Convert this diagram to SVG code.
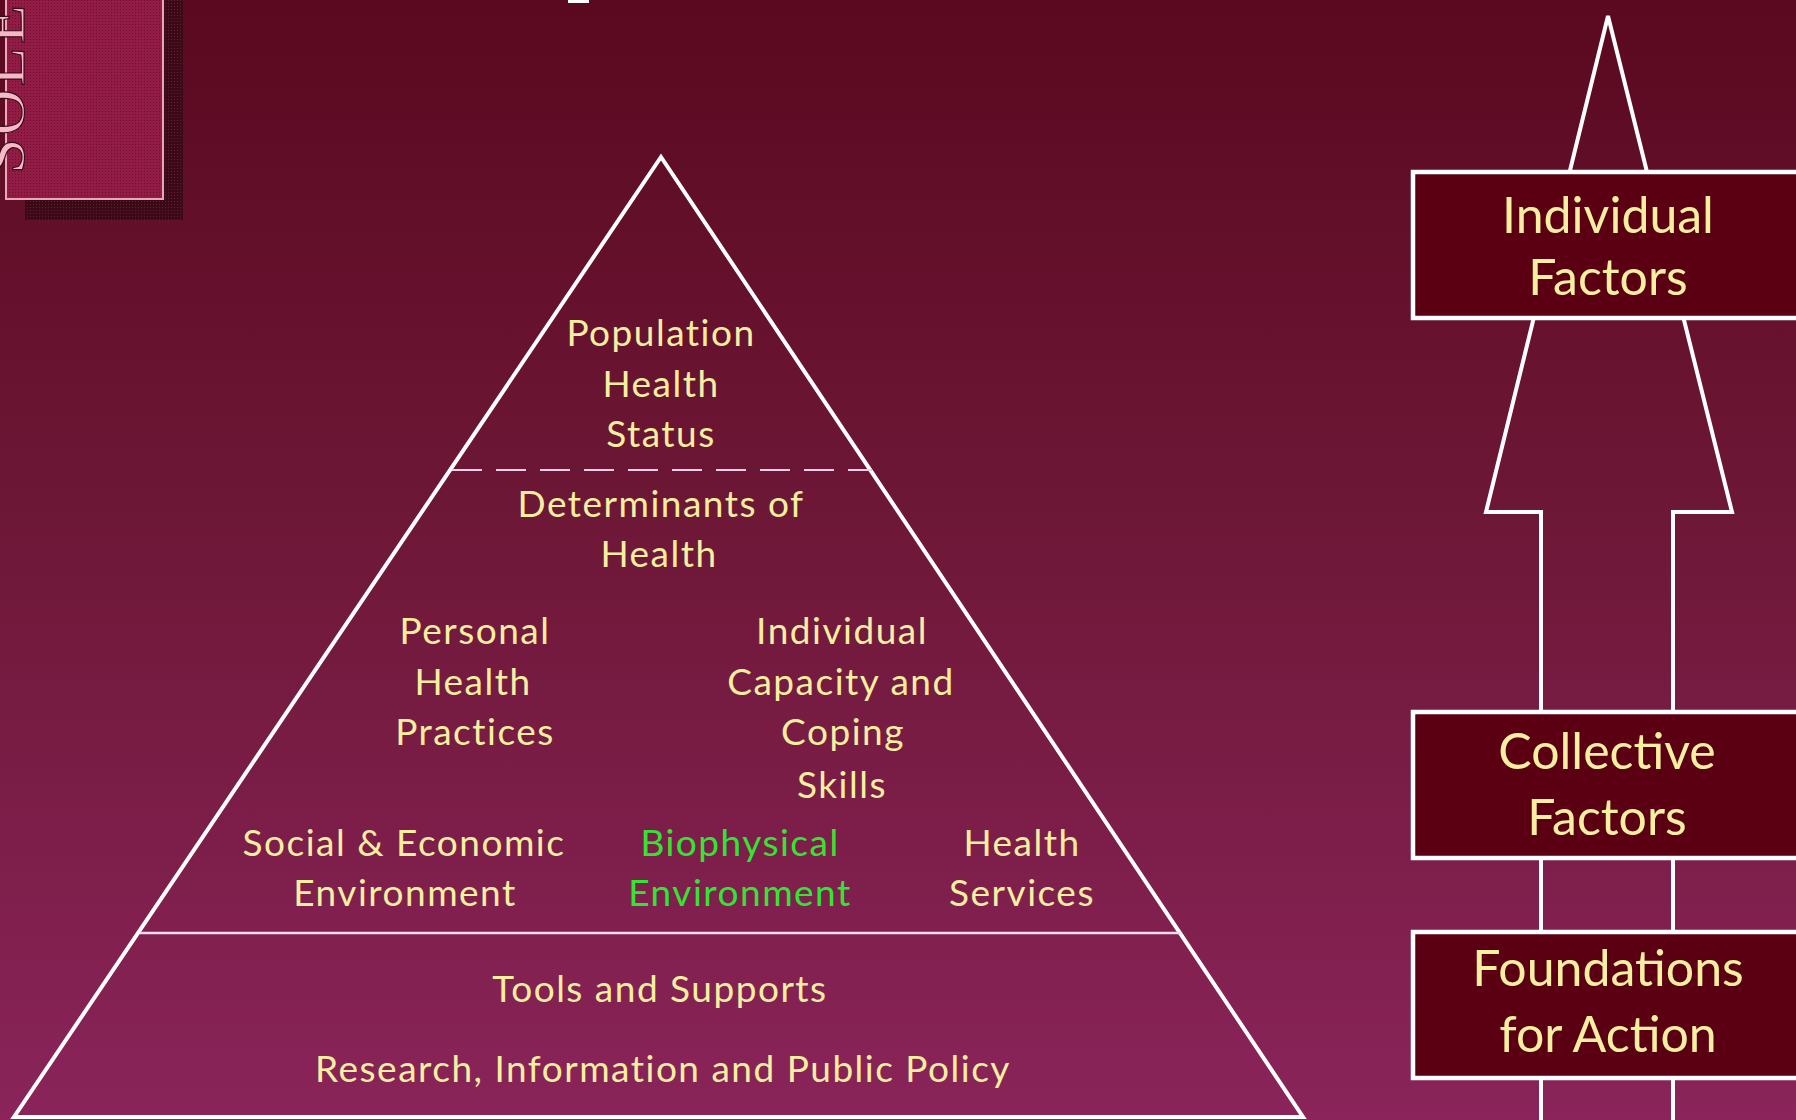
<svg xmlns="http://www.w3.org/2000/svg" width="1796" height="1120" viewBox="0 0 1796 1120">
<defs>
<linearGradient id="bg" x1="0" y1="0" x2="0" y2="1">
<stop offset="0" stop-color="#5a0920"/>
<stop offset="0.45" stop-color="#6d1736"/>
<stop offset="1" stop-color="#8a245a"/>
</linearGradient>
<pattern id="dots" width="3" height="3" patternUnits="userSpaceOnUse"><rect width="3" height="3" fill="#931c46"/><rect width="1" height="1" fill="#6a0f30"/></pattern>
<pattern id="sdots" width="3" height="3" patternUnits="userSpaceOnUse"><rect width="3" height="3" fill="#3a0a18"/><rect width="1" height="1" fill="#6a1a30"/></pattern>
<style>
.t{font-family:Lato,"Liberation Sans",sans-serif;font-size:37px;fill:#f6efa0;text-anchor:middle;letter-spacing:1.5px}
.g{fill:#33e533}
.bt{font-family:Lato,"Liberation Sans",sans-serif;font-size:50px;fill:#f8f0a0;text-anchor:middle}
.box{fill:#5a0012;stroke:#ffffff;stroke-width:4.5}
.edge{fill:none;stroke:#ffffff;stroke-width:4;stroke-linejoin:miter}
</style>
</defs>
<rect width="1796" height="1120" fill="url(#bg)"/>

<g id="logo">
<rect x="25" y="-5" width="158" height="225" fill="url(#sdots)"/>
<rect x="6" y="-5" width="157" height="204" fill="url(#dots)" stroke="#e8a8b8" stroke-width="2"/>
<text x="0" y="0" transform="translate(24,174) rotate(-90)" font-family="'Liberation Serif',serif" font-size="64" letter-spacing="3" fill="#f4b8c6" stroke="#3a0a18" stroke-width="1.2">SOLE</text>
</g>
<rect x="568" y="0" width="21" height="3" fill="#ffffff"/>

<g id="pyramid">
<polygon class="edge" points="661,157 1303,1117 14,1117"/>
<line x1="452" y1="470" x2="872" y2="470" stroke="#ead0ea" stroke-width="2" stroke-dasharray="30,14"/>
<line x1="140" y1="933" x2="1180" y2="933" stroke="#f2dcf2" stroke-width="2.5"/>
</g>

<g id="population-health-status">
<text class="t" x="661" y="346">Population</text>
<text class="t" x="661" y="397">Health</text>
<text class="t" x="661" y="447">Status</text>
</g>
<g id="determinants-of-health">
<text class="t" x="661" y="517">Determinants of</text>
<text class="t" x="659" y="567">Health</text>
</g>
<g id="personal-health-practices">
<text class="t" x="475" y="644">Personal</text>
<text class="t" x="473" y="695">Health</text>
<text class="t" x="475" y="745">Practices</text>
</g>
<g id="individual-capacity">
<text class="t" x="842" y="644">Individual</text>
<text class="t" x="841" y="695">Capacity and</text>
<text class="t" x="843" y="745">Coping</text>
<text class="t" x="842" y="798">Skills</text>
</g>
<g id="social-economic">
<text class="t" x="404" y="856">Social &amp; Economic</text>
<text class="t" x="405" y="906">Environment</text>
</g>
<g id="biophysical">
<text class="t g" x="740" y="856">Biophysical</text>
<text class="t g" x="740" y="906">Environment</text>
</g>
<g id="health-services">
<text class="t" x="1022" y="856">Health</text>
<text class="t" x="1022" y="906">Services</text>
</g>
<g id="tools-supports">
<text class="t" x="660" y="1002">Tools and Supports</text>
<text class="t" x="663" y="1082">Research, Information and Public Policy</text>
</g>

<g id="connectors">
<polygon class="edge" points="1608,16 1732,512 1673,512 1673,1130 1541,1130 1541,512 1486,512"/>
</g>

<g id="individual-factors">
<rect class="box" x="1413" y="172" width="400" height="146"/>
<text class="bt" x="1608" y="233">Individual</text>
<text class="bt" x="1608" y="295">Factors</text>
</g>
<g id="collective-factors">
<rect class="box" x="1413" y="712" width="400" height="146"/>
<text class="bt" x="1607" y="769">Collective</text>
<text class="bt" x="1607" y="835">Factors</text>
</g>
<g id="foundations-for-action">
<rect class="box" x="1413" y="932" width="400" height="146"/>
<text class="bt" x="1608" y="986">Foundations</text>
<text class="bt" x="1608" y="1052">for Action</text>
</g>
</svg>
